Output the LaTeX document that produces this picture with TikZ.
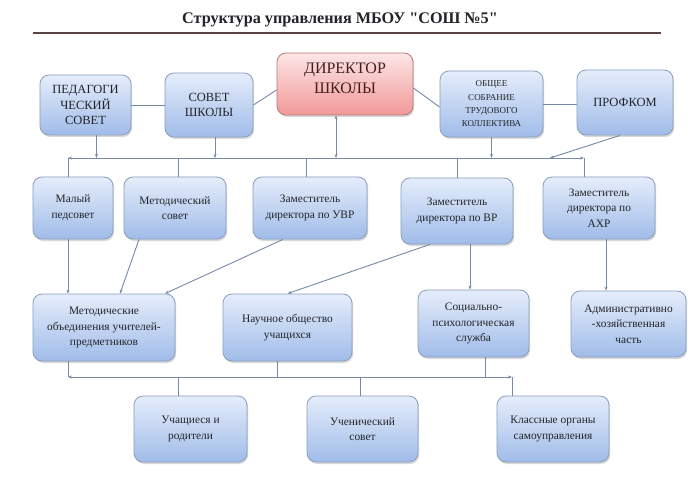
\documentclass[tikz,border=0pt]{standalone}
\usepackage{fontspec}
\setmainfont{Liberation Serif}[Ligatures=TeXOff]
\usetikzlibrary{positioning,arrows.meta,calc,shadows}
\definecolor{boxtop}{RGB}{229,237,251}
\definecolor{boxbot}{RGB}{160,188,233}
\definecolor{boxline}{RGB}{138,158,190}
\definecolor{dirtop}{RGB}{253,230,230}
\definecolor{dirbot}{RGB}{241,152,152}
\definecolor{dirline}{RGB}{188,120,120}
\definecolor{dirtext}{RGB}{70,30,30}
\definecolor{textc}{RGB}{35,35,40}
\definecolor{linkc}{RGB}{118,138,168}
\definecolor{rulec}{RGB}{92,66,66}

\begin{document}
\begin{tikzpicture}[x=1pt,y=-1pt,
  box/.style={draw=boxline,line width=0.8pt,rounded corners=9pt,top color=boxtop,bottom color=boxbot,
    align=center,inner sep=2pt,text=textc,font=\fontsize{11.4}{15.6}\selectfont,
    drop shadow={shadow xshift=1.2pt,shadow yshift=-2pt,opacity=0.3}},
  capbox/.style={box,font=\fontsize{12.5}{15.5}\selectfont},
  dirbox/.style={box,draw=dirline,top color=dirtop,bottom color=dirbot,text=dirtext,font=\fontsize{16}{20}\selectfont},
  sz/.style 2 args={minimum width=#1pt,minimum height=#2pt},
  link/.style={draw=linkc,line width=0.9pt},
  arr/.style={link,-{Stealth[length=4pt,width=3pt]}},
  darr/.style={link,{Stealth[length=4pt,width=3pt]}-{Stealth[length=4pt,width=3pt]}}]
\useasboundingbox (0,0) rectangle (700,486);
\fill[white] (0,0) rectangle (700,486);
% title
\node[font=\bfseries\fontsize{16.2}{19}\selectfont,text=textc] (title) at (340,20) {Структура управления МБОУ "СОШ №5"};
\draw[rulec,line width=2.6pt] (33,33) -- (661,33);
% top row
\node[capbox,sz={91}{60}] (pedsovet) at (85.5,105) {ПЕДАГОГИ\\ЧЕСКИЙ\\СОВЕТ};
\node[capbox,sz={88}{64}] (sovet) at (209,105) {СОВЕТ\\ШКОЛЫ};
\node[dirbox,sz={136}{62}] (director) at (345,84) {ДИРЕКТОР\\ШКОЛЫ\\[-8pt]\mbox{}};
\node[box,font=\fontsize{9}{13.3}\selectfont,sz={103}{66}] (sobranie) at (491.5,104) {ОБЩЕЕ\\СОБРАНИЕ\\ТРУДОВОГО\\КОЛЛЕКТИВА};
\node[capbox,sz={96}{65}] (profkom) at (625,102.5) {ПРОФКОМ};
% deputies and councils
\node[box,sz={80}{62}] (maly) at (73,208) {Малый\\педсовет};
\node[box,sz={102}{62}] (metsovet) at (175,208) {Методический\\совет};
\node[box,sz={114}{62}] (zamuvr) at (310,208) {Заместитель\\директора по УВР};
\node[box,sz={112}{66}] (zamvr) at (457,211) {Заместитель\\директора по ВР};
\node[box,sz={112}{62}] (zamahr) at (599,208) {Заместитель\\директора по\\АХР};
% services
\node[box,sz={142}{67}] (metob) at (104,327.5) {Методические\\объединения учителей-\\предметников};
\node[box,sz={129}{67}] (nou) at (287.5,327.5) {Научное общество\\учащихся};
\node[box,sz={111}{67}] (sps) at (473.5,323.5) {Социально-\\психологическая\\служба};
\node[box,sz={115}{66}] (ahch) at (628.5,324) {Административно\\-хозяйственная\\часть};
% pupils
\node[box,sz={113}{66}] (uchrod) at (190.5,429) {Учащиеся и\\родители};
\node[box,sz={111}{66}] (uchsovet) at (362.5,429) {Ученический\\совет};
\node[box,sz={112}{66}] (klass) at (553,429) {Классные органы\\самоуправления};
\coordinate (bus1L) at (68,158);
\coordinate (bus1R) at (584,158);
\coordinate (bus2L) at (68,377);
\coordinate (bus2R) at (512,377);
\coordinate (pk) at (550,158);
% top row links
\draw[link] (pedsovet.east) -- (sovet.west);
\draw[link] (sovet.east) -- ([yshift=-6pt]director.west);
\draw[link] ([yshift=-4pt]director.east) -- ([yshift=-3pt]sobranie.west);
\draw[link] (sobranie.east) -- (sobranie.east -| profkom.west);
% upper bus
\draw[darr] (bus1L) -- (bus1R);
\draw[arr] ([xshift=11pt]pedsovet.south) -- ([xshift=11pt]pedsovet.south |- bus1L);
\draw[arr] ([xshift=6pt]sovet.south) -- ([xshift=6pt]sovet.south |- bus1L);
\draw[darr] ([xshift=-9pt]director.south) -- ([xshift=-9pt]director.south |- bus1L);
\draw[arr] (sobranie.south) -- (sobranie.south |- bus1L);
\draw[arr] ([xshift=-5pt]profkom.south) -- (pk);
\draw[link] (bus1L) -- (bus1L |- maly.north);
\draw[link] ([xshift=3pt]metsovet.north |- bus1L) -- ([xshift=3pt]metsovet.north);
\draw[link] ([xshift=-4pt]zamuvr.north |- bus1L) -- ([xshift=-4pt]zamuvr.north);
\draw[link] (zamvr.north |- bus1L) -- (zamvr.north);
\draw[link] (bus1R) -- (bus1R |- zamahr.north);
% second row to third row
\draw[arr] (bus1L |- maly.south) -- (bus1L |- metob.north);
\draw[arr] ([xshift=-36pt]metsovet.south) -- ([xshift=16pt]metob.north);
\draw[arr] ([xshift=-27pt]zamuvr.south) -- ([xshift=61pt]metob.north);
\draw[arr] ([xshift=-27pt]zamvr.south) -- (nou.north);
\draw[arr] ([xshift=13pt]zamvr.south) -- ([xshift=-3.5pt]sps.north);
\draw[arr] ([xshift=7pt]zamahr.south) -- ([xshift=-22.5pt]ahch.north);
% lower bus
\draw[darr] (bus2L) -- (bus2R);
\draw[link] (bus2L |- metob.south) -- (bus2L);
\draw[link] ([xshift=-10.5pt]nou.south) -- ([xshift=-10.5pt]nou.south |- bus2L);
\draw[link] ([xshift=11.5pt]sps.south) -- ([xshift=11.5pt]sps.south |- bus2L);
\draw[link] ([xshift=-12.5pt]uchrod.north |- bus2L) -- ([xshift=-12.5pt]uchrod.north);
\draw[link] ([xshift=-2.5pt]uchsovet.north |- bus2L) -- ([xshift=-2.5pt]uchsovet.north);
\draw[link] (bus2R) -- (bus2R |- klass.north);
\end{tikzpicture}
\end{document}
